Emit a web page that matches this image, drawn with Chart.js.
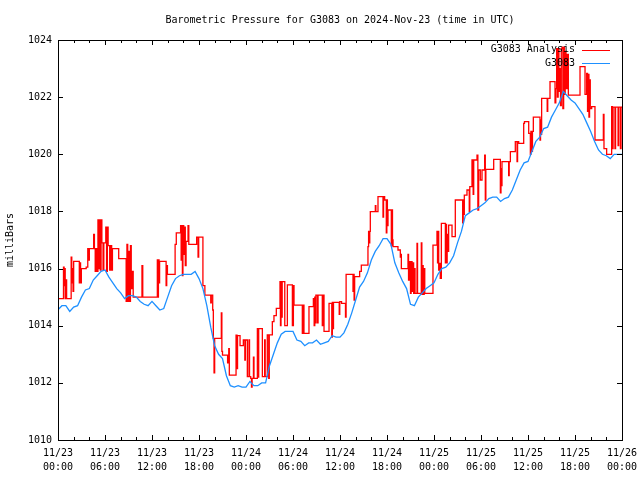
<!DOCTYPE html>
<html>
<head>
<meta charset="utf-8">
<script src="https://cdn.jsdelivr.net/npm/chart.js@4.4.1/dist/chart.umd.min.js"></script>
<style>
  body { margin: 0; background: #fff; }
  canvas { display: block; }
</style>
</head>
<body>
<canvas id="chart" width="640" height="480"></canvas>
<script>
// time axis is hours after 2024-11-23 00:00 UTC
var titleText = "Barometric Pressure for G3083 on 2024-Nov-23 (time in UTC)";
var yTitle = "milliBars";
var seriesNames = ["G3083 Analysis", "G3083"];
var startMonth = 11, startDay = 23;

var xMin = 0, xMax = 72, xMajorStep = 6, xMinorStep = 2;
var yMin = 1010, yMax = 1024, yStep = 2;

// analysis series: value changes at each hour mark (step plot)
var redHours = [
  0, 0.7, 0.78, 0.85, 0.92, 1.02, 1.1, 1.68, 1.76, 1.84, 1.92, 2.0, 2.72, 2.8, 2.88, 2.98,
  3.6, 3.8, 3.9, 4.0, 4.55, 4.65, 4.75, 4.85, 5.0, 5.1, 5.2, 5.3, 5.4, 5.5, 5.6, 5.75, 5.85,
  6.1, 6.2, 6.3, 6.4, 6.6, 6.7, 6.85, 6.95, 7.75, 8.7, 8.8, 8.9, 9.0, 9.1, 9.25, 9.35, 9.5, 9.6,
  10.72, 10.82, 12.68, 12.75, 12.82, 12.9, 12.97, 13.8, 13.88, 13.97, 14.95, 15.1, 15.65, 15.72,
  15.8, 15.88, 15.95, 16.05, 16.15, 16.25, 16.35, 16.6, 16.7, 17.7, 17.88, 17.96, 18.5, 18.75,
  19.5, 19.57, 19.75, 19.83, 19.92, 20.0, 20.85, 20.92, 21.0, 21.65, 21.8, 21.87, 22.73, 22.85,
  22.92, 23.24, 23.66, 23.85, 23.92, 24.17, 24.38, 24.45, 24.6, 24.7, 24.78, 24.95, 25.02, 25.45,
  25.55, 25.62, 26.09, 26.38, 26.45, 26.72, 26.9, 26.97, 27.36, 27.57, 27.87, 28.34, 28.4, 28.47,
  28.55, 28.62, 28.95, 29.28, 29.92, 30.05, 30.13, 31.19, 31.3, 31.4, 32.04, 32.6, 32.7, 32.78,
  32.85, 32.92, 33.11, 33.2, 33.74, 33.82, 33.96, 34.6, 34.95, 35.02, 35.1, 35.17, 35.9, 35.97,
  36.2, 36.7, 36.78, 37.66, 37.74, 37.8, 37.87, 38.51, 38.72, 39.57, 39.65, 39.72, 39.8, 39.87,
  40.51, 40.58, 40.85, 41.49, 41.56, 41.7, 41.91, 41.98, 42.05, 42.13, 42.55, 42.62, 42.7, 42.77,
  43.4, 43.7, 43.78, 43.83, 44.68, 44.75, 44.89, 45.0, 45.08, 45.2, 45.27, 45.4, 45.5, 45.58,
  45.83, 45.9, 46.38, 46.45, 46.55, 46.62, 46.75, 46.82, 47.87, 48.38, 48.45, 48.52, 48.6, 48.68,
  48.8, 48.94, 49.45, 49.52, 49.6, 49.68, 49.75, 49.87, 50.3, 50.72, 51.66, 51.73, 51.8, 51.87,
  52.21, 52.5, 52.57, 52.85, 53.0, 53.07, 53.49, 53.6, 53.7, 53.91, 54.13, 54.47, 54.55, 54.62,
  55.62, 56.47, 56.55, 56.62, 56.68, 57.53, 57.6, 57.75, 58.38, 58.6, 58.67, 58.81, 59.45, 59.55,
  60.09, 60.3, 60.37, 60.5, 60.57, 60.68, 61.53, 61.6, 61.67, 61.74, 62.45, 62.52, 62.81, 63.45,
  63.55, 63.66, 63.75, 63.85, 63.95, 64.05, 64.15, 64.25, 64.35, 64.45, 64.55, 64.65, 64.75,
  64.85, 65.0, 65.15, 66.64, 67.28, 67.49, 67.6, 67.68, 67.78, 67.86, 67.95, 68.13, 68.55, 69.62,
  69.7, 70.04, 70.68, 70.78, 70.86, 71.1, 71.18, 71.5, 71.58, 71.8, 71.88, 72.0
];
var redValues = [
  1014.95, 1016.05, 1015.4, 1016.0, 1014.95, 1015.6, 1014.95, 1016.4, 1015.5, 1016.0, 1015.2, 1016.25, 1015.5, 1016.2, 1015.5, 1016.0,
  1016.05, 1016.7, 1016.3, 1016.7, 1017.2, 1016.7, 1015.9, 1016.7, 1015.9, 1017.7, 1016.0, 1017.7, 1015.95, 1017.7, 1016.9, 1015.95, 1016.9,
  1017.45, 1015.9, 1017.45, 1016.8, 1015.95, 1016.8, 1015.95, 1016.7, 1016.35, 1014.85, 1016.85, 1014.85, 1016.6, 1014.85, 1016.8, 1015.3, 1015.9, 1015.0,
  1016.1, 1015.0, 1016.3, 1015.0, 1016.3, 1015.5, 1016.25, 1015.4, 1016.1, 1015.8, 1016.85, 1017.25, 1017.5, 1016.3,
  1017.5, 1015.75, 1017.5, 1016.5, 1017.45, 1016.1, 1016.95, 1017.5, 1016.85, 1017.1, 1016.4, 1017.1, 1015.4, 1015.07,
  1014.8, 1015.07, 1014.55, 1013.56, 1012.35, 1013.56, 1014.45, 1013.1, 1012.97, 1012.7, 1013.2, 1012.27, 1013.67, 1012.5,
  1013.65, 1013.3, 1013.5, 1012.8, 1013.5, 1012.22, 1013.5, 1012.22, 1012.16, 1011.85, 1012.16, 1012.9, 1012.16, 1013.9,
  1012.2, 1013.9, 1012.22, 1013.5, 1012.22, 1013.68, 1012.16, 1013.68, 1014.14, 1014.35, 1014.61, 1015.54, 1014.0, 1015.54,
  1014.3, 1015.54, 1014.0, 1015.43, 1014.0, 1015.4, 1014.72, 1013.73, 1014.72, 1013.73, 1014.67, 1014.95, 1014.0, 1015.0,
  1014.1, 1015.07, 1014.1, 1015.07, 1014.0, 1015.07, 1013.8, 1014.78, 1013.6, 1014.82, 1013.9, 1014.82, 1014.4, 1014.84,
  1014.78, 1014.3, 1015.8, 1015.2, 1015.8, 1014.9, 1015.72, 1015.9, 1016.12, 1016.77, 1017.3, 1016.9, 1017.3, 1017.99,
  1018.2, 1017.99, 1018.52, 1017.8, 1018.52, 1018.4, 1017.25, 1018.4, 1017.5, 1018.05, 1016.8, 1018.05, 1017.0, 1016.77,
  1016.65, 1016.4, 1016.5, 1016.0, 1016.5, 1015.6, 1016.24, 1015.13, 1016.24, 1015.2, 1016.2, 1015.13, 1016.0, 1015.13,
  1016.88, 1015.13, 1016.9, 1015.1, 1016.1, 1015.1, 1016.0, 1015.13, 1016.82, 1017.3, 1016.2, 1017.3, 1015.95, 1016.18,
  1015.66, 1017.58, 1016.2, 1017.55, 1016.2, 1017.2, 1016.6, 1017.52, 1017.12, 1018.4, 1017.6, 1018.4, 1017.9, 1018.57,
  1018.75, 1018.0, 1018.87, 1019.8, 1018.6, 1019.8, 1019.97, 1018.05, 1019.45, 1019.1, 1019.45, 1019.97, 1018.4, 1019.47,
  1019.82, 1018.65, 1019.5, 1018.9, 1019.74, 1019.25, 1019.74, 1020.09, 1020.44, 1019.74, 1020.44, 1020.38, 1021.08, 1021.14,
  1020.73, 1020.0, 1020.8, 1020.1, 1020.8, 1021.3, 1020.5, 1021.2, 1020.7, 1021.96, 1021.5, 1021.96, 1022.54, 1021.8,
  1022.3, 1023.7, 1022.0, 1023.7, 1022.2, 1023.0, 1021.7, 1023.7, 1023.75, 1021.6, 1023.75, 1022.1, 1023.6,
  1022.3, 1023.5, 1022.07, 1023.07, 1022.1, 1022.83, 1021.5, 1022.8, 1021.3, 1022.6, 1021.6, 1021.67, 1020.5, 1021.4,
  1020.2, 1020.0, 1021.67, 1020.2, 1021.65, 1020.2, 1021.65, 1020.3, 1021.65, 1020.2, 1021.65, 1021.65
];

// station series, one reading every half hour from 00:00
var blueStartHour = 0, blueStepHours = 0.5;
var blueValues = [
  1014.56, 1014.7, 1014.7, 1014.5, 1014.65, 1014.7, 1015.0, 1015.25, 1015.3, 1015.6, 1015.75, 1015.9, 1015.95,
  1015.7, 1015.5, 1015.3, 1015.15, 1014.95, 1015.05, 1015.05, 1015.0, 1014.85, 1014.75, 1014.7, 1014.85,
  1014.7, 1014.55, 1014.6, 1015.0, 1015.4, 1015.65, 1015.75, 1015.8, 1015.8, 1015.8, 1015.9, 1015.65,
  1015.3, 1014.7, 1013.95, 1013.3, 1013.0, 1012.85, 1012.25, 1011.9, 1011.85, 1011.9, 1011.85, 1011.85,
  1012.05, 1011.9, 1011.9, 1012.0, 1012.0, 1012.6, 1013.0, 1013.4, 1013.7, 1013.8, 1013.8, 1013.8,
  1013.5, 1013.45, 1013.3, 1013.4, 1013.4, 1013.5, 1013.35, 1013.4, 1013.45, 1013.65, 1013.6, 1013.6,
  1013.75, 1014.05, 1014.45, 1014.9, 1015.35, 1015.55, 1015.85, 1016.3, 1016.6, 1016.8, 1017.05, 1017.05,
  1016.85, 1016.2, 1015.85, 1015.55, 1015.3, 1014.75, 1014.7, 1015.0, 1015.15, 1015.3, 1015.4, 1015.5,
  1015.8, 1016.0, 1016.05, 1016.2, 1016.45, 1016.9, 1017.3, 1017.85, 1017.95, 1018.05, 1018.1, 1018.2,
  1018.3, 1018.45, 1018.5, 1018.5, 1018.35, 1018.45, 1018.5, 1018.75, 1019.1, 1019.45, 1019.7, 1019.75,
  1020.1, 1020.45, 1020.6, 1020.9, 1020.95, 1021.3, 1021.55, 1021.8, 1022.2, 1022.05, 1021.9, 1021.8,
  1021.6, 1021.4, 1021.1, 1020.8, 1020.45, 1020.15, 1020.0, 1019.95, 1019.85, 1020.0, 1020.0, 1020.0
];

var monoFont = '"DejaVu Sans Mono", "Liberation Mono", monospace';
Chart.defaults.font.family = monoFont;
Chart.defaults.font.size = 10;
Chart.defaults.color = '#000';

function pad2(n) { return (n < 10 ? '0' : '') + n; }

// gnuplot style frame: box round the plot, ticks pointing inward on all sides, legend top right
var framePlugin = {
  id: 'frame',
  afterDraw: function (chart) {
    var ctx = chart.ctx, a = chart.chartArea;
    var xs = chart.scales.x, ys = chart.scales.y;
    ctx.save();
    ctx.strokeStyle = '#000';
    ctx.lineWidth = 1;
    ctx.strokeRect(a.left + 0.5, a.top + 0.5, a.right - a.left, a.bottom - a.top);
    ctx.beginPath();
    for (var h = xMin; h <= xMax; h += xMinorStep) {
      var px = Math.round(xs.getPixelForValue(h)) + 0.5;
      var len = (h % xMajorStep === 0) ? 5 : 3;
      ctx.moveTo(px, a.bottom); ctx.lineTo(px, a.bottom - len);
      ctx.moveTo(px, a.top); ctx.lineTo(px, a.top + len);
    }
    for (var v = yMin; v <= yMax; v += yStep) {
      var py = Math.round(ys.getPixelForValue(v)) + 0.5;
      ctx.moveTo(a.left, py); ctx.lineTo(a.left + 5, py);
      ctx.moveTo(a.right, py); ctx.lineTo(a.right - 5, py);
    }
    ctx.stroke();

    // legend
    ctx.font = '10px ' + monoFont;
    ctx.textAlign = 'right';
    ctx.textBaseline = 'middle';
    chart.data.datasets.forEach(function (ds, i) {
      var y = 49.5 + i * 13.5;
      ctx.fillStyle = '#000';
      ctx.fillText(ds.label, 575, y);
      ctx.strokeStyle = ds.borderColor;
      ctx.beginPath();
      ctx.moveTo(582, Math.round(y) + 0.5);
      ctx.lineTo(610, Math.round(y) + 0.5);
      ctx.stroke();
    });
    ctx.restore();
  }
};

var redData = redHours.map(function (h, i) { return { x: h, y: redValues[i] }; });
var blueData = blueValues.map(function (v, i) { return { x: blueStartHour + i * blueStepHours, y: v }; });

new Chart(document.getElementById('chart'), {
  type: 'line',
  data: {
    datasets: [
      {
        label: seriesNames[0],
        data: redData,
        borderColor: '#ff0000',
        borderWidth: 1.3,
        stepped: true,
        pointRadius: 0,
        fill: false,
        order: 1
      },
      {
        label: seriesNames[1],
        data: blueData,
        borderColor: '#1e90ff',
        borderWidth: 1.3,
        pointRadius: 0,
        tension: 0,
        fill: false,
        order: 0
      }
    ]
  },
  options: {
    responsive: false,
    animation: false,
    devicePixelRatio: 1,
    layout: { padding: { left: 0, right: 18, top: 0, bottom: 0 } },
    plugins: {
      legend: { display: false },
      tooltip: { enabled: false },
      title: {
        display: true,
        text: titleText,
        fullSize: false,
        color: '#000',
        font: { family: monoFont, size: 10, weight: 'normal' },
        padding: { top: 14, bottom: 14 }
      }
    },
    scales: {
      x: {
        type: 'linear',
        position: 'bottom',
        min: xMin,
        max: xMax,
        grid: { display: false, drawTicks: false },
        border: { display: false },
        ticks: {
          stepSize: xMajorStep,
          autoSkip: false,
          maxRotation: 0,
          minRotation: 0,
          padding: 6,
          color: '#000',
          font: { family: monoFont, size: 10, lineHeight: 1.4 },
          callback: function (value) {
            var day = startDay + Math.floor(value / 24);
            var hour = value % 24;
            return [pad2(startMonth) + '/' + pad2(day), pad2(hour) + ':00'];
          }
        },
        afterFit: function (s) {
          s.height = 40;
          s.paddingLeft = 0;
          s.paddingRight = 0;
        }
      },
      y: {
        position: 'left',
        min: yMin,
        max: yMax,
        grid: { display: false, drawTicks: false },
        border: { display: false },
        ticks: {
          stepSize: yStep,
          padding: 6,
          color: '#000',
          font: { family: monoFont, size: 10 },
          callback: function (value) { return String(value); }
        },
        title: {
          display: true,
          text: yTitle,
          color: '#000',
          font: { family: monoFont, size: 10 },
          padding: { top: 4, bottom: 0 }
        },
        afterFit: function (s) {
          s.width = 58;
          s.paddingTop = 0;
          s.paddingBottom = 0;
        }
      }
    }
  },
  plugins: [framePlugin]
});
</script>
</body>
</html>
